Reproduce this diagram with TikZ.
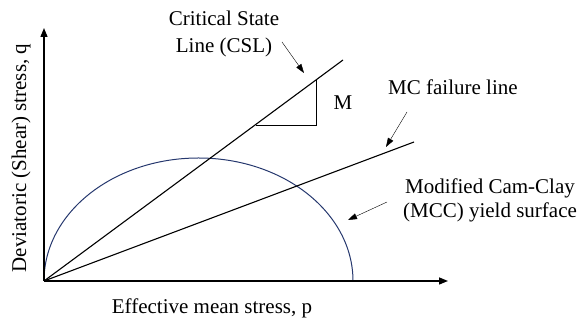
\documentclass[tikz,border=0pt]{standalone}
\usepackage{fontspec}
\setmainfont{Liberation Serif}
\usetikzlibrary{arrows.meta}
\definecolor{surfblue}{RGB}{38,56,110}
\tikzset{axis/.style={line width=1.4pt, -{Triangle[length=9pt,width=7pt]}},
         pointer/.style={thin, -{Triangle[length=9pt,width=6pt]}},
         lbl/.style={font=\fontsize{21}{24}\selectfont, inner sep=0pt, align=center}}

\begin{document}
\begin{tikzpicture}[x=1pt,y=1pt]
  \useasboundingbox (0,0) rectangle (582,326);
  \coordinate (O) at (44,45);
  \coordinate (qtop) at (44,298);
  \coordinate (pend) at (448,45);
  \coordinate (csl) at (343,266);
  \coordinate (mc) at (414,184);
  \coordinate (tri) at (256,201);
  \coordinate (corner) at (316,201);
  \coordinate (apex) at (316,246);

  % yield surface
  \draw[surfblue, line width=1pt] (O) arc[start angle=180, end angle=0, x radius=154.5, y radius=123];

  % lines from the origin
  \draw[line width=1.1pt] (O) -- (csl);
  \draw[line width=1.1pt] (O) -- (mc);
  \draw[thin] (tri) -- (corner) -- (apex);

  \draw[axis] (O) -- (qtop);
  \draw[axis] (O) -- (pend);

  % labels
  \node[lbl, font=\fontsize{21}{27}\selectfont] (cslLbl) at (224,292) {Critical State\\Line (CSL)};
  \node[lbl] (mLbl) at (343,223) {M};
  \node[lbl, anchor=west] (mcLbl) at (388,239) {MC failure line};
  \node[lbl] (mccLbl) at (490,126) {Modified Cam-Clay\\(MCC) yield surface};
  \node[lbl] (pLbl) at (212,18) {Effective mean stress, p};
  \node[lbl, rotate=90] (qLbl) at (21,168) {Deviatoric (Shear) stress, q};

  \coordinate (cslTip) at (304,253);
  \coordinate (mcTip) at (386,179);
  \coordinate (mccTip) at (348,106);
  \draw[pointer] (282,284) -- (cslTip);
  \draw[pointer] (407,214) -- (mcTip);
  \draw[pointer] (387,124) -- (mccTip);
\end{tikzpicture}
\end{document}
